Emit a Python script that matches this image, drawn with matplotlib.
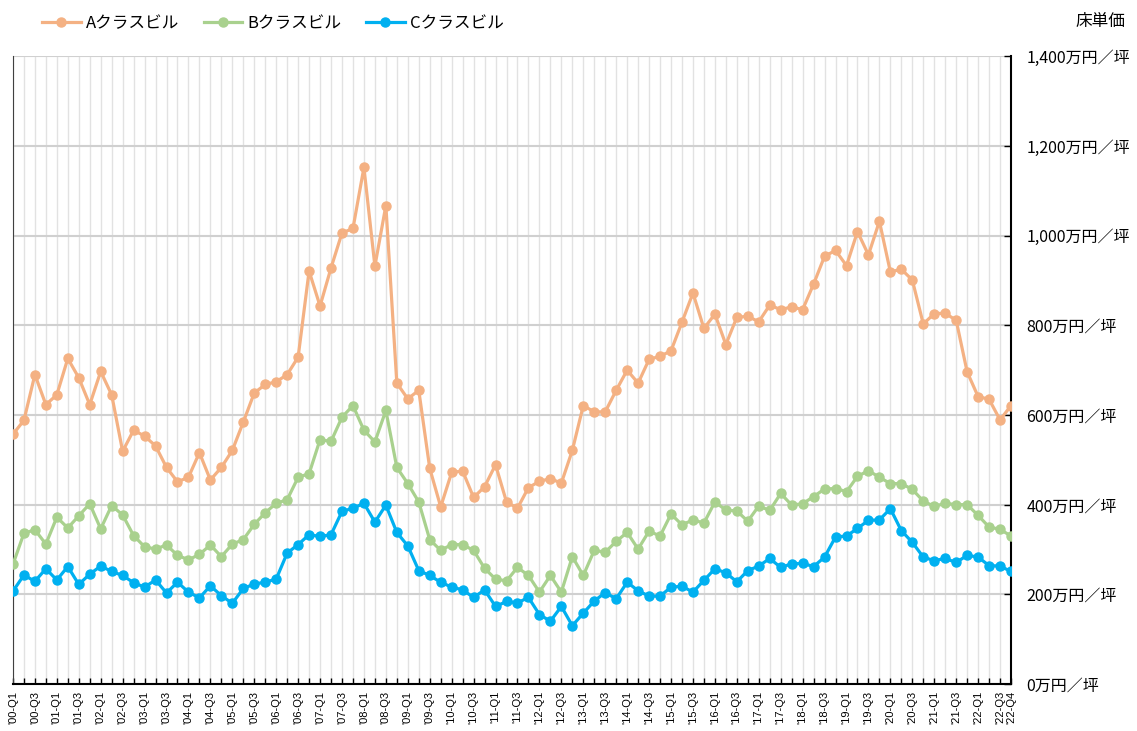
import matplotlib
matplotlib.use('Agg')
import matplotlib.pyplot as plt
from matplotlib.ticker import FixedLocator, FuncFormatter

plt.rcParams['font.family'] = ['Noto Sans CJK JP', 'DejaVu Sans']

# quarterly labels '00-Q1 ... '22-Q4
quarters = [f"'{i // 4:02d}-Q{i % 4 + 1}" for i in range(92)]

# 床単価 (万円/坪)
a_class = [557, 588, 690, 623, 645, 726, 683, 623, 697, 645,
           519, 566, 553, 531, 483, 451, 461, 516, 455, 483,
           521, 584, 649, 668, 674, 690, 729, 921, 843, 928,
           1006, 1016, 1152, 932, 1067, 671, 636, 655, 481, 395,
           472, 475, 416, 440, 489, 406, 392, 438, 452, 458,
           448, 521, 621, 607, 607, 655, 700, 671, 724, 731,
           743, 807, 872, 793, 825, 757, 818, 820, 808, 845,
           835, 841, 835, 892, 954, 967, 933, 1009, 957, 1032,
           919, 925, 901, 803, 826, 827, 811, 696, 641, 635,
           589, 621]
b_class = [267, 336, 344, 312, 372, 348, 375, 402, 346, 398,
           377, 331, 306, 301, 310, 287, 277, 289, 310, 284,
           312, 322, 356, 382, 403, 411, 461, 469, 545, 541,
           595, 621, 566, 540, 610, 483, 447, 406, 322, 298,
           311, 311, 298, 258, 234, 230, 260, 242, 205, 242,
           205, 284, 242, 298, 294, 318, 338, 301, 341, 330,
           379, 355, 366, 359, 406, 388, 386, 363, 397, 387,
           425, 399, 402, 418, 435, 436, 429, 463, 476, 461,
           447, 447, 434, 408, 396, 403, 400, 400, 376, 350,
           345, 330]
c_class = [207, 243, 229, 257, 232, 262, 222, 245, 263, 251,
           242, 226, 216, 232, 203, 227, 205, 192, 219, 197,
           180, 213, 223, 227, 234, 292, 311, 333, 329, 333,
           385, 392, 403, 361, 399, 338, 308, 253, 242, 227,
           216, 210, 193, 210, 173, 184, 181, 193, 155, 140,
           173, 130, 158, 185, 204, 190, 227, 208, 196, 196,
           216, 218, 205, 231, 257, 248, 228, 253, 263, 280,
           260, 268, 269, 262, 283, 328, 330, 347, 365, 366,
           391, 342, 316, 283, 275, 280, 271, 287, 283, 264,
           263, 251]

series = [('Aクラスビル', a_class, '#F4B183'),
          ('Bクラスビル', b_class, '#A9D18E'),
          ('Cクラスビル', c_class, '#00B0F0')]

fig = plt.figure(figsize=(11.37, 7.31), dpi=100)
ax = fig.add_axes([0.0114, 0.0643, 0.8778, 0.8587])

x = list(range(len(quarters)))
for name, vals, col in series:
    ax.plot(x, vals, color=col, lw=2.3, marker='o', ms=6.5, label=name, zorder=3)

ax.set_xlim(0, len(quarters) - 1)
ax.set_ylim(0, 1400)

# y axis on the right
ax.yaxis.tick_right()
ax.set_yticks(range(0, 1401, 200))
ax.yaxis.set_major_formatter(FuncFormatter(lambda v, p: f"{int(v):,}万円／坪"))
ax.tick_params(axis='y', direction='in', length=5, width=1, labelsize=11.5, pad=11)

# x ticks every quarter, labels every other quarter + last
ax.xaxis.set_major_locator(FixedLocator(x))
xlabels = [q if (i % 2 == 0 or i == len(quarters) - 1) else '' for i, q in enumerate(quarters)]
ax.set_xticklabels(xlabels, rotation=90, fontsize=8, family=['Liberation Sans', 'DejaVu Sans'])
ax.tick_params(axis='x', direction='in', length=4, width=1, pad=5)

ax.grid(axis='y', color='#d0d0d0', lw=1.5, zorder=0)
ax.grid(axis='x', color='#e2e2e2', lw=1.0, zorder=0)

ax.spines['top'].set_visible(False)
ax.spines['left'].set_color('#404040')
ax.spines['right'].set_color('black')
ax.spines['right'].set_linewidth(1.5)
ax.spines['bottom'].set_color('black')
ax.spines['bottom'].set_linewidth(1.5)

fig.legend(loc='upper left', bbox_to_anchor=(0.024, 1.0), ncol=3, frameon=False,
           fontsize=12, handlelength=2.3, columnspacing=1.5, handletextpad=0.3)
fig.text(0.99, 0.982, '床単価', ha='right', va='top', fontsize=12)

plt.savefig('out.png', dpi=100)
plt.close()
